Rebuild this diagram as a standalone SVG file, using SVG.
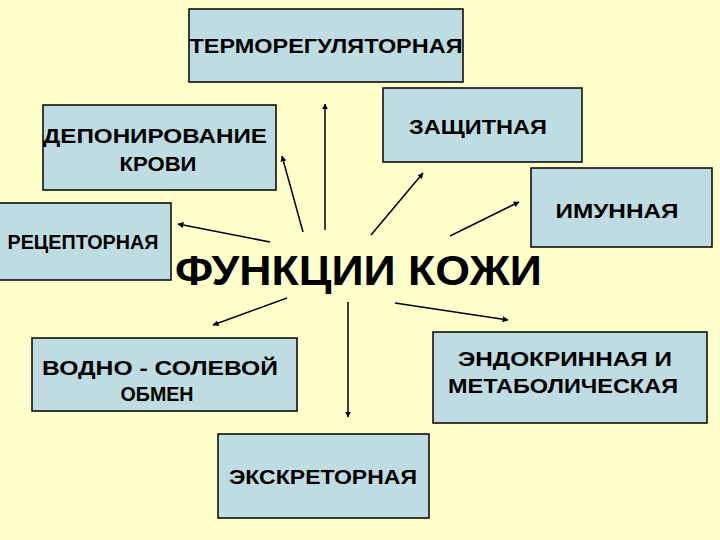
<svg xmlns="http://www.w3.org/2000/svg" width="720" height="540" viewBox="0 0 720 540">
<style>
.box{fill:#BEDCE2;stroke:#000;stroke-width:1.5}
.t{font-family:"Liberation Sans",Arial,sans-serif;font-size:21px;font-weight:bold;fill:#000;text-anchor:middle}
.title{font-family:"Liberation Sans",Arial,sans-serif;font-size:43px;font-weight:bold;fill:#000}
.c{stroke:#000;stroke-width:1.5;fill:none;marker-end:url(#ah)}
</style>
<defs>
<marker id="ah" viewBox="0 0 10 10" refX="9" refY="5" markerWidth="6" markerHeight="6" orient="auto" markerUnits="userSpaceOnUse">
<path d="M0,0 L10,5 L0,10 z" fill="#000"/>
</marker>
</defs>
<rect width="720" height="540" fill="#FFFFCC"/>
<g id="connectors">
<line class="c" x1="325" y1="230" x2="325" y2="104"/>
<line class="c" x1="303" y1="232" x2="282" y2="156"/>
<line class="c" x1="270" y1="242" x2="178" y2="224"/>
<line class="c" x1="371" y1="235" x2="423" y2="173"/>
<line class="c" x1="450" y1="236" x2="519" y2="202"/>
<line class="c" x1="287" y1="298" x2="213" y2="325"/>
<line class="c" x1="348" y1="302" x2="348" y2="417"/>
<line class="c" x1="395" y1="303" x2="508" y2="320"/>
</g>
<g id="thermo">
<rect class="box" x="189" y="9" width="274" height="73"/>
<text class="t" x="326" y="53" textLength="273" lengthAdjust="spacingAndGlyphs">ТЕРМОРЕГУЛЯТОРНАЯ</text>
</g>
<g id="depo">
<rect class="box" x="43" y="105" width="233" height="85"/>
<text class="t" x="155" y="143" textLength="224" lengthAdjust="spacingAndGlyphs">ДЕПОНИРОВАНИЕ</text>
<text class="t" x="158" y="171" textLength="77" lengthAdjust="spacingAndGlyphs">КРОВИ</text>
</g>
<g id="recept">
<rect class="box" x="-2" y="203" width="173" height="77"/>
<text class="t" x="83" y="249" textLength="151" lengthAdjust="spacingAndGlyphs">РЕЦЕПТОРНАЯ</text>
</g>
<g id="zasch">
<rect class="box" x="383" y="88" width="199" height="74"/>
<text class="t" x="478" y="134" textLength="138" lengthAdjust="spacingAndGlyphs">ЗАЩИТНАЯ</text>
</g>
<g id="imun">
<rect class="box" x="531" y="168" width="181" height="79"/>
<text class="t" x="617" y="218" textLength="123" lengthAdjust="spacingAndGlyphs">ИМУННАЯ</text>
</g>
<g id="title">
<text class="title" x="175" y="285" textLength="367" lengthAdjust="spacingAndGlyphs">ФУНКЦИИ КОЖИ</text>
</g>
<g id="vodno">
<rect class="box" x="32" y="338" width="265" height="73"/>
<text class="t" x="160" y="375" textLength="236" lengthAdjust="spacingAndGlyphs">ВОДНО - СОЛЕВОЙ</text>
<text class="t" x="157" y="401" textLength="73" lengthAdjust="spacingAndGlyphs">ОБМЕН</text>
</g>
<g id="endo">
<rect class="box" x="433" y="332" width="274" height="91"/>
<text class="t" x="565" y="366" textLength="214" lengthAdjust="spacingAndGlyphs">ЭНДОКРИННАЯ И</text>
<text class="t" x="563" y="393" textLength="230" lengthAdjust="spacingAndGlyphs">МЕТАБОЛИЧЕСКАЯ</text>
</g>
<g id="excr">
<rect class="box" x="218" y="434" width="211" height="84"/>
<text class="t" x="323" y="484" textLength="188" lengthAdjust="spacingAndGlyphs">ЭКСКРЕТОРНАЯ</text>
</g>
</svg>
